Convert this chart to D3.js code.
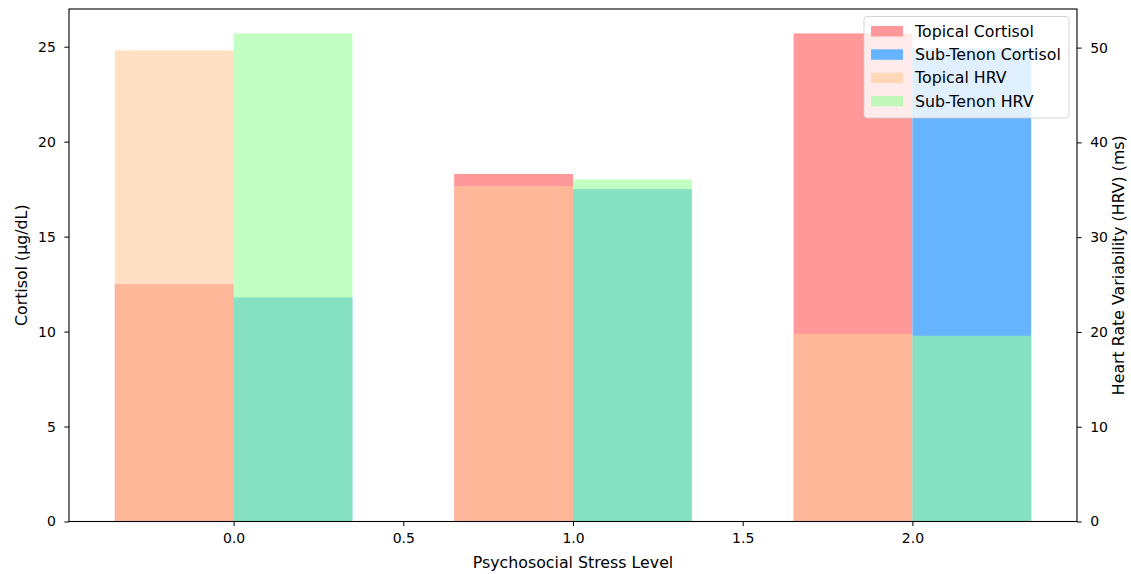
<!DOCTYPE html>
<html>
<head>
<meta charset="utf-8">
<script src="https://cdn.jsdelivr.net/npm/d3@7"></script>
<style>
  body { margin: 0; background: #fff; }
  text { font-family: "DejaVu Sans", sans-serif; }
</style>
</head>
<body>
<svg id="chart" width="1131" height="574"></svg>
<script>
const categories = [0, 1, 2];
const topicalCortisol = [12.5, 18.3, 25.7];
const subTenonCortisol = [11.8, 17.5, 24.9];
const topicalHRV = [49.7, 35.4, 19.8];
const subTenonHRV = [51.5, 36.1, 19.6];
const xTicks = [0.0, 0.5, 1.0, 1.5, 2.0];
const yLeftTicks = [0, 5, 10, 15, 20, 25];
const yRightTicks = [0, 10, 20, 30, 40, 50];
const barWidth = 0.35;

const W = 1131, H = 574;
const m = { left: 69, right: 54, top: 9, bottom: 52.5 };
const svg = d3.select("#chart");
const tickFs = 14;
const labelFs = 15.8;

const x = d3.scaleLinear().domain([-0.485, 2.485]).range([m.left, W - m.right]);
const maxC = d3.max([...topicalCortisol, ...subTenonCortisol]);
const maxH = d3.max([...topicalHRV, ...subTenonHRV]);
const yL = d3.scaleLinear().domain([0, maxC * 1.05]).range([H - m.bottom, m.top]);
const yR = d3.scaleLinear().domain([0, maxH * 1.05]).range([H - m.bottom, m.top]);

const series = [
  { name: "Topical Cortisol", vals: topicalCortisol, off: -barWidth, y: yL, color: "#ff9999", op: 1 },
  { name: "Sub-Tenon Cortisol", vals: subTenonCortisol, off: 0, y: yL, color: "#66b3ff", op: 1 },
  { name: "Topical HRV", vals: topicalHRV, off: -barWidth, y: yR, color: "#ffcc99", op: 0.6 },
  { name: "Sub-Tenon HRV", vals: subTenonHRV, off: 0, y: yR, color: "#99ff99", op: 0.6 }
];

series.forEach(s => {
  svg.append("g").selectAll("rect").data(categories).join("rect")
    .attr("x", (d) => x(d + s.off))
    .attr("width", (d) => x(d + s.off + barWidth) - x(d + s.off))
    .attr("y", (d, i) => s.y(s.vals[i]))
    .attr("height", (d, i) => s.y(0) - s.y(s.vals[i]))
    .attr("fill", s.color)
    .attr("fill-opacity", s.op);
});

// Axes
const fmt1 = d3.format(".1f");
const xAxis = d3.axisBottom(x).tickValues(xTicks).tickFormat(fmt1).tickSize(4.67).tickPadding(7);
const yAxisL = d3.axisLeft(yL).tickValues(yLeftTicks).tickFormat(d3.format("d")).tickSize(4.67).tickPadding(8.5);
const yAxisR = d3.axisRight(yR).tickValues(yRightTicks).tickFormat(d3.format("d")).tickSize(4.67).tickPadding(8.5);

function styleAxis(g) {
  g.select(".domain").remove();
  g.selectAll(".tick line").attr("stroke", "#000").attr("stroke-width", 1);
  g.selectAll(".tick text").attr("font-size", tickFs).attr("fill", "#000").attr("font-family", "DejaVu Sans");
}
svg.append("g").attr("transform", `translate(0,${H - m.bottom})`).call(xAxis).call(styleAxis);
svg.append("g").attr("transform", `translate(${m.left},0)`).call(yAxisL).call(styleAxis);
svg.append("g").attr("transform", `translate(${W - m.right},0)`).call(yAxisR).call(styleAxis);

// Frame
svg.append("rect").attr("x", m.left).attr("y", m.top)
  .attr("width", W - m.left - m.right).attr("height", H - m.top - m.bottom)
  .attr("fill", "none").attr("stroke", "#000").attr("stroke-width", 1.1);

// Labels
svg.append("text").attr("x", (m.left + W - m.right) / 2).attr("y", 568)
  .attr("text-anchor", "middle").attr("font-size", labelFs).text("Psychosocial Stress Level");
svg.append("text").attr("transform", `translate(27,${(m.top + H - m.bottom) / 2}) rotate(-90)`)
  .attr("text-anchor", "middle").attr("font-size", labelFs).text("Cortisol (µg/dL)");
svg.append("text").attr("transform", `translate(1124,${(m.top + H - m.bottom) / 2}) rotate(-90)`)
  .attr("text-anchor", "middle").attr("font-size", labelFs).text("Heart Rate Variability (HRV) (ms)");

// Legend
const lg = svg.append("g");
lg.append("rect").attr("x", 864).attr("y", 16.5).attr("width", 205).attr("height", 101.5)
  .attr("rx", 3).attr("fill", "#fff").attr("fill-opacity", 0.8)
  .attr("stroke", "#cccccc").attr("stroke-opacity", 0.8).attr("stroke-width", 1);
series.forEach((s, i) => {
  const cy = 31 + i * 23.3;
  lg.append("rect").attr("x", 871).attr("y", cy - 5).attr("width", 32).attr("height", 10.5)
    .attr("fill", s.color).attr("fill-opacity", s.op);
  lg.append("text").attr("x", 915).attr("y", cy).attr("dy", "0.36em")
    .attr("font-size", labelFs).attr("fill", "#000").text(s.name);
});
</script>
</body>
</html>
